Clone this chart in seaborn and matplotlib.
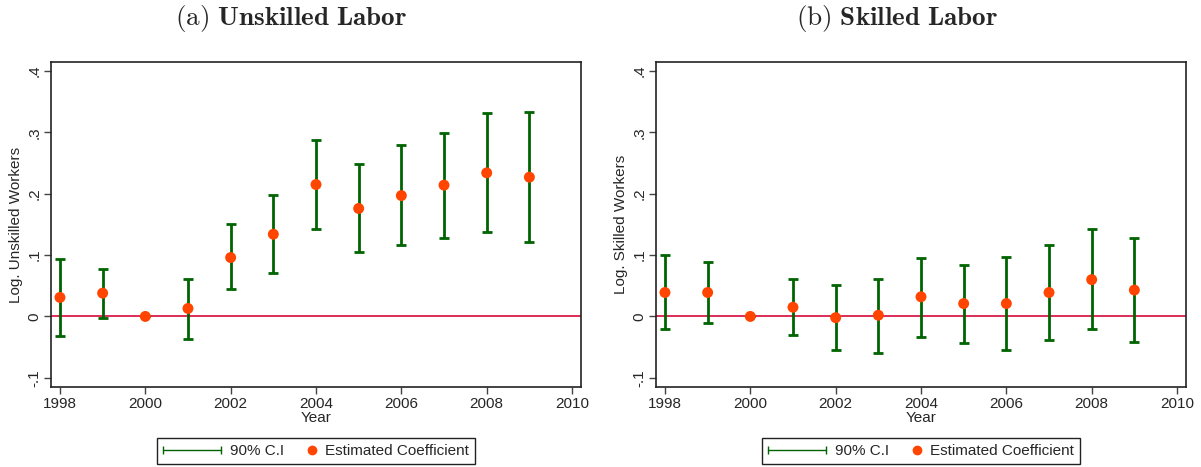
import numpy as np
import pandas as pd
import matplotlib
matplotlib.use("Agg")
import matplotlib.pyplot as plt
import seaborn as sns
from matplotlib.lines import Line2D
from matplotlib.legend_handler import HandlerLine2D, HandlerBase

# data
years = [1998, 1999, 2000, 2001, 2002, 2003, 2004, 2005, 2006, 2007, 2008, 2009]

unskilled_coef = [0.031, 0.038, 0.000, 0.013, 0.096, 0.134, 0.215, 0.176, 0.197, 0.214, 0.234, 0.227]
unskilled_lo = [-0.032, -0.002, 0.000, -0.036, 0.044, 0.070, 0.143, 0.105, 0.116, 0.128, 0.137, 0.121]
unskilled_hi = [0.094, 0.078, 0.000, 0.061, 0.150, 0.198, 0.287, 0.249, 0.280, 0.299, 0.332, 0.334]

skilled_coef = [0.039, 0.039, 0.000, 0.015, -0.002, 0.002, 0.032, 0.021, 0.021, 0.039, 0.060, 0.043]
skilled_lo = [-0.021, -0.011, 0.000, -0.031, -0.055, -0.059, -0.033, -0.044, -0.054, -0.038, -0.021, -0.041]
skilled_hi = [0.100, 0.089, 0.000, 0.061, 0.052, 0.061, 0.096, 0.084, 0.097, 0.116, 0.142, 0.128]

yticks = [-0.1, 0, 0.1, 0.2, 0.3, 0.4]
ytick_labels = ["-.1", "0", ".1", ".2", ".3", ".4"]
xticks = [1998, 2000, 2002, 2004, 2006, 2008, 2010]

panels = [
    ("(a)", "Unskilled\\ Labor", "Log. Unskilled Workers", unskilled_coef, unskilled_lo, unskilled_hi),
    ("(b)", "Skilled\\ Labor", "Log. Skilled Workers", skilled_coef, skilled_lo, skilled_hi),
]

GREEN = "#006400"
ORANGE = "#FF4500"
RED = "#D81B4A"

sns.set_style("ticks")
plt.rcParams["font.family"] = ["Liberation Sans", "DejaVu Sans"]
plt.rcParams["mathtext.fontset"] = "cm"


class DotRight(HandlerBase):
    # draw the legend dot near the right end of its handle box
    def create_artists(self, legend, orig_handle, xdescent, ydescent,
                       width, height, fontsize, trans):
        dot = Line2D([width - xdescent - 0.3 * fontsize], [height / 2 - ydescent],
                     marker="o", ls="none", color=ORANGE, ms=6, transform=trans)
        return [dot]


W, H = 1201, 467
fig = plt.figure(figsize=(W / 100, H / 100), dpi=100)

ax_lefts = [51, 656]
title_x = [291, 897]
legend_x = [316, 921]

for i, (tag, name, ylab, coef, lo, hi) in enumerate(panels):
    ax = fig.add_axes([ax_lefts[i] / W, 1 - 387 / H, 530 / W, 325 / H])
    df = pd.DataFrame({"year": years, "coef": coef, "lo": lo, "hi": hi})

    ax.axhline(0, color=RED, lw=1.3, zorder=1)
    ax.errorbar(df["year"], df["coef"],
                yerr=[df["coef"] - df["lo"], df["hi"] - df["coef"]],
                fmt="none", ecolor=GREEN, elinewidth=2.0, capsize=3.4,
                capthick=2.0, zorder=2)
    sns.scatterplot(data=df, x="year", y="coef", ax=ax, color=ORANGE,
                    s=62, edgecolor="none", zorder=3, legend=False)

    ax.set_xlim(1997.79, 2010.21)
    ax.set_ylim(-0.115, 0.4147)
    ax.set_xticks(xticks)
    ax.set_yticks(yticks)
    ax.set_yticklabels(ytick_labels, rotation=90, va="center")
    ax.tick_params(axis="both", labelsize=11, length=5, width=1, color="#444",
                   pad=2)
    ax.set_xlabel("Year", fontsize=11, labelpad=0)
    ax.set_ylabel(ylab, fontsize=11, labelpad=3)
    for sp in ax.spines.values():
        sp.set_color("#222")
        sp.set_linewidth(1.2)

    fig.text(title_x[i] / W, 1 - 19 / H,
             r"$\mathrm{%s}\ \mathbf{%s}$" % (tag, name),
             ha="center", va="center", fontsize=19.5)

    ci_handle = Line2D([], [], color=GREEN, lw=1, marker="|", ms=6, mew=1)
    dot_handle = Line2D([], [], color=ORANGE, marker="o", ls="none")
    leg = ax.legend([ci_handle, dot_handle], ["90% C.I", "Estimated Coefficient"],
                    handler_map={ci_handle: HandlerLine2D(numpoints=2, marker_pad=0),
                                 dot_handle: DotRight()},
                    loc="center", bbox_to_anchor=(legend_x[i] / W, 1 - 451 / H),
                    bbox_transform=fig.transFigure, ncol=2, fontsize=11,
                    handlelength=3.8, handletextpad=0.6, columnspacing=-1.7,
                    borderpad=0.4, fancybox=False, framealpha=1,
                    edgecolor="#222")
    leg.get_frame().set_linewidth(1)

fig.savefig("out.png", dpi=100)
